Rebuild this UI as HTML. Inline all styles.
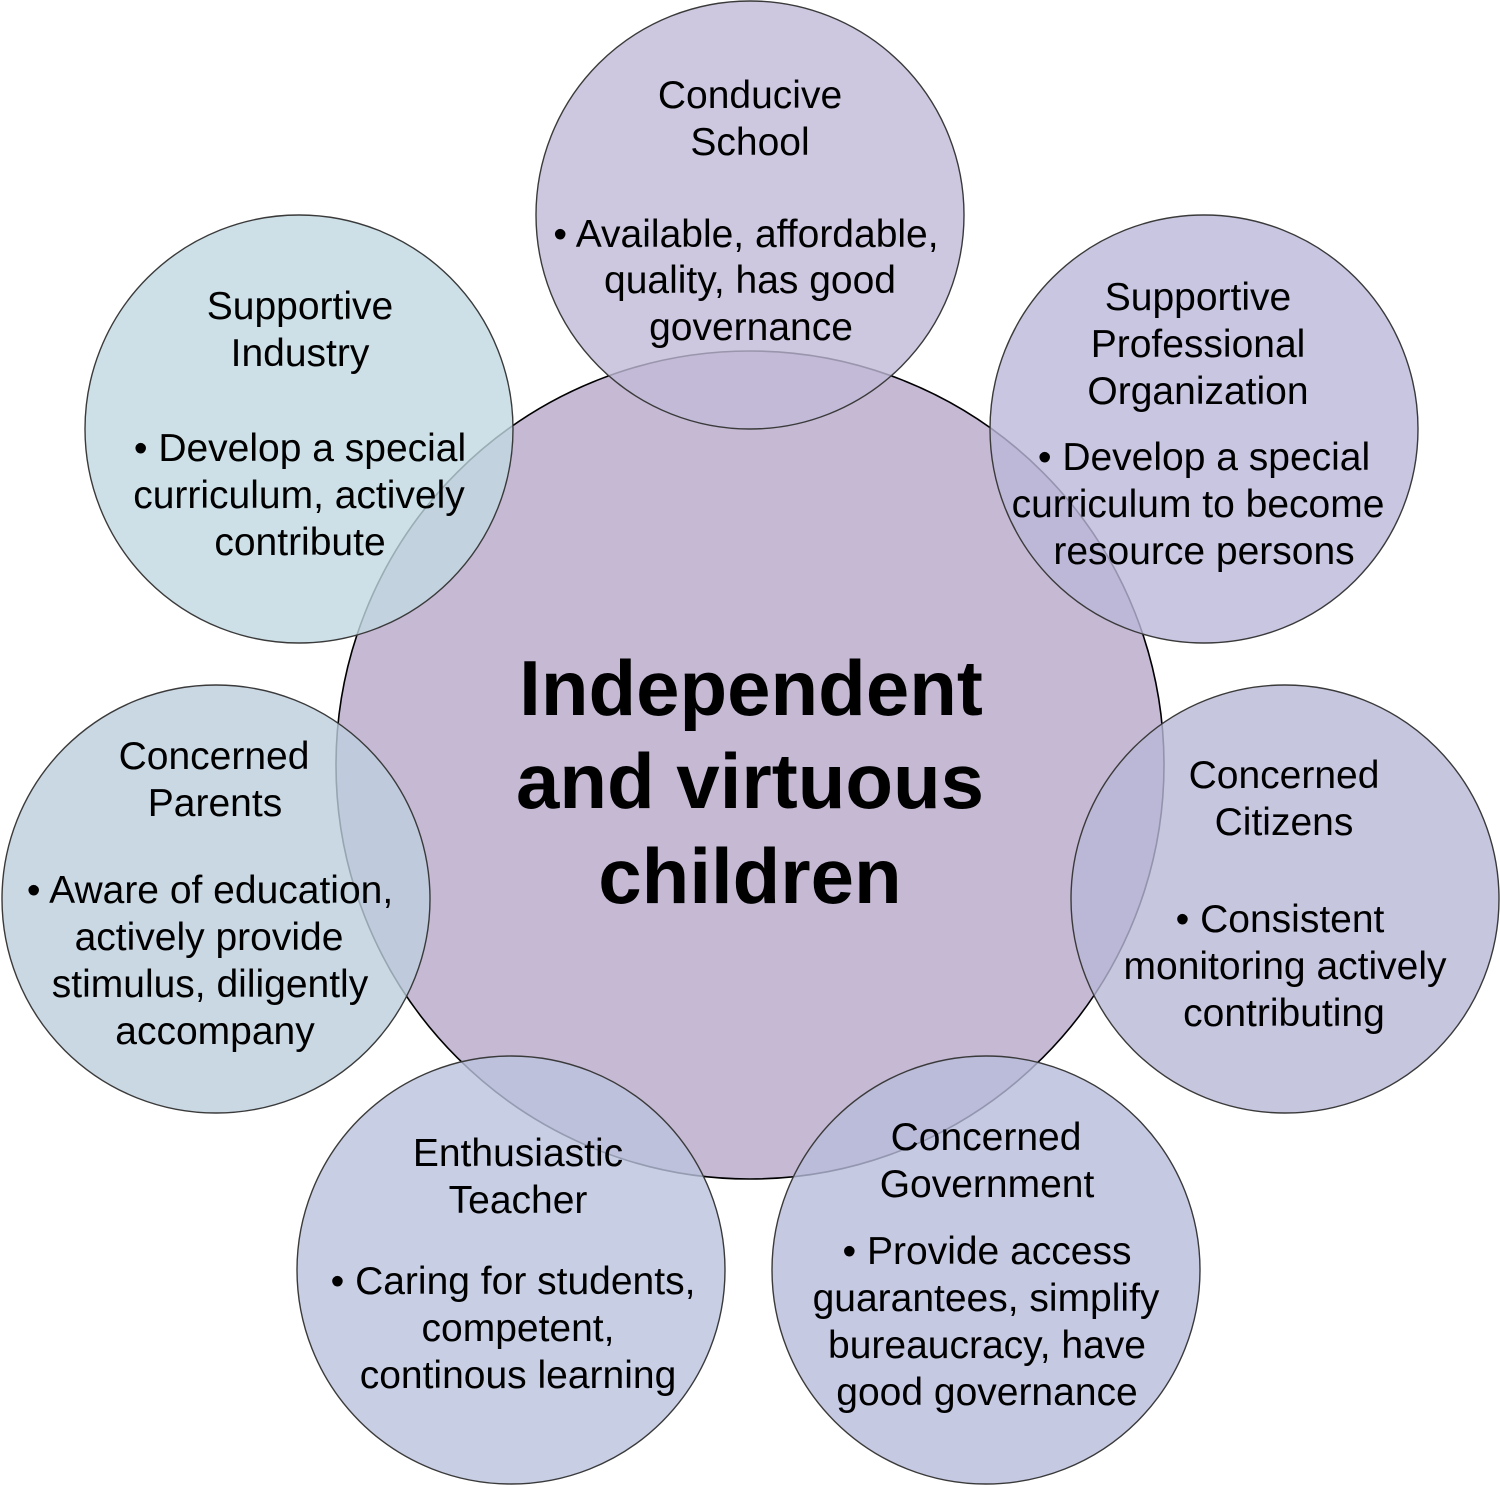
<!DOCTYPE html>
<html>
<head>
<meta charset="utf-8">
<style>
  html, body { margin: 0; padding: 0; background: #ffffff; }
  svg { display: block; }
  text { font-family: "Liberation Sans", "DejaVu Sans", sans-serif; fill: #000; }
  .o { font-size: 39px; text-anchor: middle; }
  .c { font-size: 78px; font-weight: bold; text-anchor: middle; }
</style>
</head>
<body>
<svg width="1500" height="1485" viewBox="0 0 1500 1485" xmlns="http://www.w3.org/2000/svg">
  <rect x="0" y="0" width="1500" height="1485" fill="#ffffff"/>

  <!-- Central circle -->
  <circle cx="750" cy="765" r="414" fill="#c5b9d4" stroke="#000" stroke-width="1.6"/>

  <!-- Outer circles (semi-transparent) -->
  <g stroke="#3a3a3a" stroke-width="1.4" fill-opacity="0.8">
    <circle cx="750" cy="215" r="214" fill="#c0bad7"/>
    <circle cx="1204" cy="429" r="214" fill="#bab8d8"/>
    <circle cx="1285" cy="899" r="214" fill="#b8b8d7"/>
    <circle cx="986" cy="1270" r="214" fill="#b8bcdb"/>
    <circle cx="511" cy="1270" r="214" fill="#bac3dd"/>
    <circle cx="216" cy="899" r="214" fill="#bdcedd"/>
    <circle cx="299" cy="429" r="214" fill="#c0d8e1"/>
  </g>

  <!-- Center text -->
  <text class="c" x="751" y="715">Independent</text>
  <text class="c" x="750" y="808">and virtuous</text>
  <text class="c" x="750" y="903">children</text>

  <!-- Conducive School -->
  <text class="o" x="750" y="108">Conducive</text>
  <text class="o" x="750" y="155">School</text>
  <text class="o" x="746" y="247">• Available, affordable,</text>
  <text class="o" x="750" y="293">quality, has good</text>
  <text class="o" x="751" y="340">governance</text>

  <!-- Supportive Professional Organization -->
  <text class="o" x="1198" y="310">Supportive</text>
  <text class="o" x="1198" y="357">Professional</text>
  <text class="o" x="1198" y="404">Organization</text>
  <text class="o" x="1204" y="470">• Develop a special</text>
  <text class="o" x="1198" y="517">curriculum to become</text>
  <text class="o" x="1204" y="564">resource persons</text>

  <!-- Concerned Citizens -->
  <text class="o" x="1284" y="788">Concerned</text>
  <text class="o" x="1284" y="835">Citizens</text>
  <text class="o" x="1280" y="932">• Consistent</text>
  <text class="o" x="1285" y="979">monitoring actively</text>
  <text class="o" x="1284" y="1026">contributing</text>

  <!-- Concerned Government -->
  <text class="o" x="986" y="1150">Concerned</text>
  <text class="o" x="987" y="1197">Government</text>
  <text class="o" x="987" y="1264">• Provide access</text>
  <text class="o" x="986" y="1311">guarantees, simplify</text>
  <text class="o" x="987" y="1358">bureaucracy, have</text>
  <text class="o" x="987" y="1405">good governance</text>

  <!-- Enthusiastic Teacher -->
  <text class="o" x="518" y="1166">Enthusiastic</text>
  <text class="o" x="518" y="1213">Teacher</text>
  <text class="o" x="513" y="1294">• Caring for students,</text>
  <text class="o" x="518" y="1341">competent,</text>
  <text class="o" x="518" y="1388">continous learning</text>

  <!-- Concerned Parents -->
  <text class="o" x="214" y="769">Concerned</text>
  <text class="o" x="215" y="816">Parents</text>
  <text class="o" x="210" y="903">• Aware of education,</text>
  <text class="o" x="209" y="950">actively provide</text>
  <text class="o" x="210" y="997">stimulus, diligently</text>
  <text class="o" x="215" y="1044">accompany</text>

  <!-- Supportive Industry -->
  <text class="o" x="300" y="319">Supportive</text>
  <text class="o" x="300" y="366">Industry</text>
  <text class="o" x="300" y="461">• Develop a special</text>
  <text class="o" x="299" y="508">curriculum, actively</text>
  <text class="o" x="300" y="555">contribute</text>
</svg>
</body>
</html>
